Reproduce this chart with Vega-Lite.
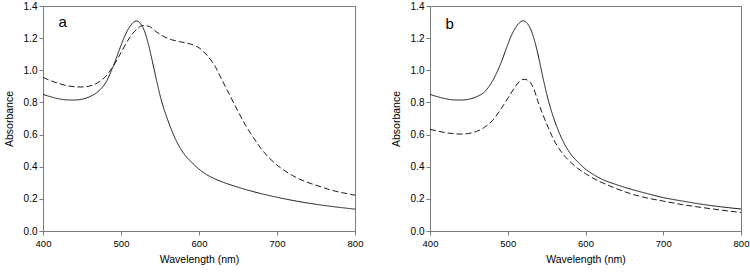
{
  "$schema": "https://vega.github.io/schema/vega-lite/v6.json",
  "padding": {"left": 3, "top": 0, "right": 2, "bottom": 0},
  "background": "white",
  "datasets": {
    "spectra": [
      {"panel": "a", "series": "solid", "wl": 400, "A": 0.85},
      {"panel": "a", "series": "solid", "wl": 410, "A": 0.835},
      {"panel": "a", "series": "solid", "wl": 420, "A": 0.823},
      {"panel": "a", "series": "solid", "wl": 430, "A": 0.816},
      {"panel": "a", "series": "solid", "wl": 440, "A": 0.815},
      {"panel": "a", "series": "solid", "wl": 450, "A": 0.82},
      {"panel": "a", "series": "solid", "wl": 460, "A": 0.836},
      {"panel": "a", "series": "solid", "wl": 470, "A": 0.865},
      {"panel": "a", "series": "solid", "wl": 480, "A": 0.92},
      {"panel": "a", "series": "solid", "wl": 490, "A": 1.025},
      {"panel": "a", "series": "solid", "wl": 500, "A": 1.155},
      {"panel": "a", "series": "solid", "wl": 505, "A": 1.215},
      {"panel": "a", "series": "solid", "wl": 510, "A": 1.262},
      {"panel": "a", "series": "solid", "wl": 515, "A": 1.294},
      {"panel": "a", "series": "solid", "wl": 520, "A": 1.307},
      {"panel": "a", "series": "solid", "wl": 525, "A": 1.29},
      {"panel": "a", "series": "solid", "wl": 530, "A": 1.245},
      {"panel": "a", "series": "solid", "wl": 535, "A": 1.165},
      {"panel": "a", "series": "solid", "wl": 540, "A": 1.06},
      {"panel": "a", "series": "solid", "wl": 545, "A": 0.95},
      {"panel": "a", "series": "solid", "wl": 550, "A": 0.845},
      {"panel": "a", "series": "solid", "wl": 555, "A": 0.76},
      {"panel": "a", "series": "solid", "wl": 560, "A": 0.69},
      {"panel": "a", "series": "solid", "wl": 570, "A": 0.57},
      {"panel": "a", "series": "solid", "wl": 580, "A": 0.485},
      {"panel": "a", "series": "solid", "wl": 590, "A": 0.43},
      {"panel": "a", "series": "solid", "wl": 600, "A": 0.385},
      {"panel": "a", "series": "solid", "wl": 610, "A": 0.35},
      {"panel": "a", "series": "solid", "wl": 620, "A": 0.325},
      {"panel": "a", "series": "solid", "wl": 640, "A": 0.288},
      {"panel": "a", "series": "solid", "wl": 660, "A": 0.258},
      {"panel": "a", "series": "solid", "wl": 680, "A": 0.232},
      {"panel": "a", "series": "solid", "wl": 700, "A": 0.21},
      {"panel": "a", "series": "solid", "wl": 725, "A": 0.186},
      {"panel": "a", "series": "solid", "wl": 750, "A": 0.166},
      {"panel": "a", "series": "solid", "wl": 775, "A": 0.15},
      {"panel": "a", "series": "solid", "wl": 800, "A": 0.136},

      {"panel": "a", "series": "dashed", "wl": 400, "A": 0.956},
      {"panel": "a", "series": "dashed", "wl": 410, "A": 0.935},
      {"panel": "a", "series": "dashed", "wl": 420, "A": 0.918},
      {"panel": "a", "series": "dashed", "wl": 430, "A": 0.905},
      {"panel": "a", "series": "dashed", "wl": 440, "A": 0.898},
      {"panel": "a", "series": "dashed", "wl": 450, "A": 0.896},
      {"panel": "a", "series": "dashed", "wl": 460, "A": 0.902},
      {"panel": "a", "series": "dashed", "wl": 470, "A": 0.922},
      {"panel": "a", "series": "dashed", "wl": 480, "A": 0.96},
      {"panel": "a", "series": "dashed", "wl": 490, "A": 1.025},
      {"panel": "a", "series": "dashed", "wl": 500, "A": 1.11},
      {"panel": "a", "series": "dashed", "wl": 510, "A": 1.195},
      {"panel": "a", "series": "dashed", "wl": 520, "A": 1.255},
      {"panel": "a", "series": "dashed", "wl": 528, "A": 1.278},
      {"panel": "a", "series": "dashed", "wl": 535, "A": 1.275},
      {"panel": "a", "series": "dashed", "wl": 545, "A": 1.24},
      {"panel": "a", "series": "dashed", "wl": 555, "A": 1.21},
      {"panel": "a", "series": "dashed", "wl": 565, "A": 1.19},
      {"panel": "a", "series": "dashed", "wl": 575, "A": 1.178},
      {"panel": "a", "series": "dashed", "wl": 590, "A": 1.162},
      {"panel": "a", "series": "dashed", "wl": 600, "A": 1.14},
      {"panel": "a", "series": "dashed", "wl": 610, "A": 1.095},
      {"panel": "a", "series": "dashed", "wl": 620, "A": 1.03},
      {"panel": "a", "series": "dashed", "wl": 630, "A": 0.935},
      {"panel": "a", "series": "dashed", "wl": 640, "A": 0.84},
      {"panel": "a", "series": "dashed", "wl": 650, "A": 0.745},
      {"panel": "a", "series": "dashed", "wl": 660, "A": 0.655},
      {"panel": "a", "series": "dashed", "wl": 670, "A": 0.58},
      {"panel": "a", "series": "dashed", "wl": 680, "A": 0.51},
      {"panel": "a", "series": "dashed", "wl": 690, "A": 0.455},
      {"panel": "a", "series": "dashed", "wl": 700, "A": 0.41},
      {"panel": "a", "series": "dashed", "wl": 710, "A": 0.375},
      {"panel": "a", "series": "dashed", "wl": 720, "A": 0.345},
      {"panel": "a", "series": "dashed", "wl": 735, "A": 0.31},
      {"panel": "a", "series": "dashed", "wl": 750, "A": 0.285},
      {"panel": "a", "series": "dashed", "wl": 770, "A": 0.254},
      {"panel": "a", "series": "dashed", "wl": 785, "A": 0.237},
      {"panel": "a", "series": "dashed", "wl": 800, "A": 0.223},

      {"panel": "b", "series": "solid", "wl": 400, "A": 0.85},
      {"panel": "b", "series": "solid", "wl": 410, "A": 0.835},
      {"panel": "b", "series": "solid", "wl": 420, "A": 0.823},
      {"panel": "b", "series": "solid", "wl": 430, "A": 0.816},
      {"panel": "b", "series": "solid", "wl": 440, "A": 0.815},
      {"panel": "b", "series": "solid", "wl": 450, "A": 0.82},
      {"panel": "b", "series": "solid", "wl": 460, "A": 0.836},
      {"panel": "b", "series": "solid", "wl": 470, "A": 0.865},
      {"panel": "b", "series": "solid", "wl": 480, "A": 0.93},
      {"panel": "b", "series": "solid", "wl": 490, "A": 1.03},
      {"panel": "b", "series": "solid", "wl": 500, "A": 1.16},
      {"panel": "b", "series": "solid", "wl": 505, "A": 1.22},
      {"panel": "b", "series": "solid", "wl": 510, "A": 1.265},
      {"panel": "b", "series": "solid", "wl": 515, "A": 1.296},
      {"panel": "b", "series": "solid", "wl": 520, "A": 1.308},
      {"panel": "b", "series": "solid", "wl": 525, "A": 1.292},
      {"panel": "b", "series": "solid", "wl": 530, "A": 1.25},
      {"panel": "b", "series": "solid", "wl": 535, "A": 1.175},
      {"panel": "b", "series": "solid", "wl": 540, "A": 1.075},
      {"panel": "b", "series": "solid", "wl": 545, "A": 0.96},
      {"panel": "b", "series": "solid", "wl": 550, "A": 0.855},
      {"panel": "b", "series": "solid", "wl": 555, "A": 0.765},
      {"panel": "b", "series": "solid", "wl": 560, "A": 0.69},
      {"panel": "b", "series": "solid", "wl": 570, "A": 0.57},
      {"panel": "b", "series": "solid", "wl": 580, "A": 0.485},
      {"panel": "b", "series": "solid", "wl": 590, "A": 0.43},
      {"panel": "b", "series": "solid", "wl": 600, "A": 0.385},
      {"panel": "b", "series": "solid", "wl": 610, "A": 0.352},
      {"panel": "b", "series": "solid", "wl": 620, "A": 0.325},
      {"panel": "b", "series": "solid", "wl": 640, "A": 0.288},
      {"panel": "b", "series": "solid", "wl": 660, "A": 0.258},
      {"panel": "b", "series": "solid", "wl": 680, "A": 0.232},
      {"panel": "b", "series": "solid", "wl": 700, "A": 0.208},
      {"panel": "b", "series": "solid", "wl": 725, "A": 0.186},
      {"panel": "b", "series": "solid", "wl": 750, "A": 0.166},
      {"panel": "b", "series": "solid", "wl": 775, "A": 0.15},
      {"panel": "b", "series": "solid", "wl": 800, "A": 0.137},

      {"panel": "b", "series": "dashed", "wl": 400, "A": 0.633},
      {"panel": "b", "series": "dashed", "wl": 420, "A": 0.612},
      {"panel": "b", "series": "dashed", "wl": 440, "A": 0.603},
      {"panel": "b", "series": "dashed", "wl": 460, "A": 0.62},
      {"panel": "b", "series": "dashed", "wl": 470, "A": 0.645},
      {"panel": "b", "series": "dashed", "wl": 480, "A": 0.685},
      {"panel": "b", "series": "dashed", "wl": 490, "A": 0.75},
      {"panel": "b", "series": "dashed", "wl": 500, "A": 0.825},
      {"panel": "b", "series": "dashed", "wl": 510, "A": 0.9},
      {"panel": "b", "series": "dashed", "wl": 516, "A": 0.935},
      {"panel": "b", "series": "dashed", "wl": 521, "A": 0.944},
      {"panel": "b", "series": "dashed", "wl": 527, "A": 0.935},
      {"panel": "b", "series": "dashed", "wl": 533, "A": 0.89},
      {"panel": "b", "series": "dashed", "wl": 540, "A": 0.79},
      {"panel": "b", "series": "dashed", "wl": 550, "A": 0.667},
      {"panel": "b", "series": "dashed", "wl": 560, "A": 0.56},
      {"panel": "b", "series": "dashed", "wl": 570, "A": 0.485},
      {"panel": "b", "series": "dashed", "wl": 580, "A": 0.432},
      {"panel": "b", "series": "dashed", "wl": 590, "A": 0.39},
      {"panel": "b", "series": "dashed", "wl": 600, "A": 0.357},
      {"panel": "b", "series": "dashed", "wl": 615, "A": 0.315},
      {"panel": "b", "series": "dashed", "wl": 630, "A": 0.283},
      {"panel": "b", "series": "dashed", "wl": 650, "A": 0.245},
      {"panel": "b", "series": "dashed", "wl": 675, "A": 0.21},
      {"panel": "b", "series": "dashed", "wl": 700, "A": 0.186},
      {"panel": "b", "series": "dashed", "wl": 725, "A": 0.164},
      {"panel": "b", "series": "dashed", "wl": 750, "A": 0.146},
      {"panel": "b", "series": "dashed", "wl": 775, "A": 0.13},
      {"panel": "b", "series": "dashed", "wl": 800, "A": 0.115}
    ],
    "labels": [
      {"panel": "a", "label": "a"},
      {"panel": "b", "label": "b"}
    ]
  },
  "hconcat": [
    {
      "width": 312,
      "height": 225,
      "layer": [
        {
          "data": {"name": "spectra"},
          "transform": [{"filter": "datum.panel === 'a'"}],
          "mark": {"type": "line", "color": "#1a1a1a", "strokeWidth": 1, "interpolate": "monotone"},
          "encoding": {
            "x": {"field": "wl", "type": "quantitative", "scale": {"domain": [400, 800], "nice": false}, "axis": {"title": "Wavelength (nm)", "values": [400, 500, 600, 700, 800]}},
            "y": {"field": "A", "type": "quantitative", "scale": {"domain": [0, 1.4], "nice": false}, "axis": {"title": "Absorbance", "values": [0, 0.2, 0.4, 0.6, 0.8, 1.0, 1.2, 1.4], "format": ".1f"}},
            "detail": {"field": "series"},
            "strokeDash": {"field": "series", "type": "nominal", "scale": {"domain": ["solid", "dashed"], "range": [[1, 0], [6, 3]]}, "legend": null}
          }
        },
        {
          "data": {"name": "labels"},
          "transform": [{"filter": "datum.panel === 'a'"}],
          "mark": {"type": "text", "align": "left", "baseline": "middle", "fontSize": 15, "font": "Liberation Sans", "color": "black"},
          "encoding": {
            "x": {"datum": 420, "type": "quantitative", "axis": {"title": "Wavelength (nm)", "values": [400, 500, 600, 700, 800]}},
            "y": {"datum": 1.3, "type": "quantitative", "axis": {"title": "Absorbance", "values": [0, 0.2, 0.4, 0.6, 0.8, 1.0, 1.2, 1.4], "format": ".1f"}},
            "text": {"field": "label"}
          }
        }
      ]
    },
    {
      "width": 311,
      "height": 225,
      "layer": [
        {
          "data": {"name": "spectra"},
          "transform": [{"filter": "datum.panel === 'b'"}],
          "mark": {"type": "line", "color": "#1a1a1a", "strokeWidth": 1, "interpolate": "monotone"},
          "encoding": {
            "x": {"field": "wl", "type": "quantitative", "scale": {"domain": [400, 800], "nice": false}, "axis": {"title": "Wavelength (nm)", "values": [400, 500, 600, 700, 800]}},
            "y": {"field": "A", "type": "quantitative", "scale": {"domain": [0, 1.4], "nice": false}, "axis": {"title": "Absorbance", "values": [0, 0.2, 0.4, 0.6, 0.8, 1.0, 1.2, 1.4], "format": ".1f"}},
            "detail": {"field": "series"},
            "strokeDash": {"field": "series", "type": "nominal", "scale": {"domain": ["solid", "dashed"], "range": [[1, 0], [6, 3]]}, "legend": null}
          }
        },
        {
          "data": {"name": "labels"},
          "transform": [{"filter": "datum.panel === 'b'"}],
          "mark": {"type": "text", "align": "left", "baseline": "middle", "fontSize": 15, "font": "Liberation Sans", "color": "black"},
          "encoding": {
            "x": {"datum": 420, "type": "quantitative", "axis": {"title": "Wavelength (nm)", "values": [400, 500, 600, 700, 800]}},
            "y": {"datum": 1.29, "type": "quantitative", "axis": {"title": "Absorbance", "values": [0, 0.2, 0.4, 0.6, 0.8, 1.0, 1.2, 1.4], "format": ".1f"}},
            "text": {"field": "label"}
          }
        }
      ]
    }
  ],
  "resolve": {"scale": {"strokeDash": "independent"}},
  "bounds": "flush",
  "spacing": 75,
  "config": {
    "font": "Liberation Sans",
    "view": {"stroke": "#7a7a7a", "strokeWidth": 1},
    "axis": {
      "grid": false,
      "domainColor": "#7a7a7a",
      "tickColor": "#7a7a7a",
      "tickSize": 4,
      "labelOverlap": false,
      "labelFlush": false,
      "labelBound": false,
      "labelFont": "Liberation Sans",
      "labelColor": "black",
      "titleFont": "Liberation Sans",
      "titleFontSize": 10.5,
      "titleFontWeight": "normal",
      "titleColor": "black"
    },
    "axisX": {"labelPadding": 3, "titlePadding": 7, "labelFontSize": 9.5},
    "axisY": {"labelPadding": 2, "titlePadding": 9, "labelFontSize": 10}
  }
}
